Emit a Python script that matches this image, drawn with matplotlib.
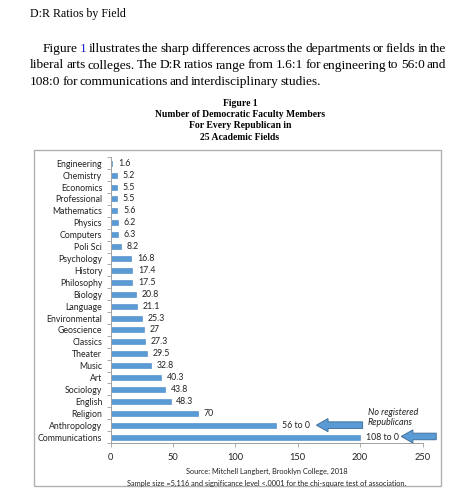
import matplotlib.pyplot as plt
from matplotlib.patches import Rectangle, FancyArrow

# data
fields = ["Engineering", "Chemistry", "Economics", "Professional", "Mathematics",
          "Physics", "Computers", "Poli Sci", "Psychology", "History", "Philosophy",
          "Biology", "Language", "Environmental", "Geoscience", "Classics", "Theater",
          "Music", "Art", "Sociology", "English", "Religion", "Anthropology",
          "Communications"]
ratios = [1.6, 5.2, 5.5, 5.5, 5.6, 6.2, 6.3, 8.2, 16.8, 17.4, 17.5, 20.8, 21.1,
          25.3, 27, 27.3, 29.5, 32.8, 40.3, 43.8, 48.3, 70, 133, 200]  # last two drawn as capped bars
bar_labels = ["1.6", "5.2", "5.5", "5.5", "5.6", "6.2", "6.3", "8.2", "16.8", "17.4",
              "17.5", "20.8", "21.1", "25.3", "27", "27.3", "29.5", "32.8", "40.3",
              "43.8", "48.3", "70", "56 to 0", "108 to 0"]
x_ticks = [0, 50, 100, 150, 200, 250]

serif = "Liberation Serif"
sans = "Lato"
W, H = 454, 500

fig = plt.figure(figsize=(W / 100, H / 100), dpi=100)

# background layer in pixel coordinates for the document text and chart frame
bg = fig.add_axes([0, 0, 1, 1])
bg.set_xlim(0, W)
bg.set_ylim(H, 0)
bg.axis("off")

renderer = fig.canvas.get_renderer()


def word_width(word, **kw):
    t = bg.text(0, 0, word, **kw)
    bb = t.get_window_extent(renderer=renderer)
    t.remove()
    return bb.width


def justified(words, x0, x1, y, colors=None, **kw):
    # spread the words so the line runs from x0 to x1
    widths = [word_width(w, **kw) for w in words]
    gap = (x1 - x0 - sum(widths)) / (len(words) - 1)
    x = x0
    for i, (w, wd) in enumerate(zip(words, widths)):
        c = colors.get(i, "black") if colors else "black"
        bg.text(x, y, w, va="baseline", ha="left", color=c, **kw)
        x += wd + gap


para = dict(family=serif, fontsize=9.6)
bg.text(30, 16.5, "D:R Ratios by Field", family=serif, fontsize=8.6, va="baseline")
justified("Figure 1 illustrates the sharp differences across the departments or fields in the".split(),
          43, 446, 51.7, colors={1: "#2222cc"}, **para)
justified("liberal arts colleges. The D:R ratios range from 1.6:1 for engineering to 56:0 and".split(),
          30, 446, 68.5, **para)
justified("108:0 for communications and interdisciplinary studies.".split(),
          30, 321, 85.3, **para)

title_lines = ["Figure 1", "Number of Democratic Faculty Members",
               "For Every Republican in", "25 Academic Fields"]
for i, line in enumerate(title_lines):
    bg.text(240, 105.5 + i * 11.4, line, family=serif, fontsize=6.9, weight="bold",
            ha="center", va="baseline")

bg.add_patch(Rectangle((33.5, 150), 407, 336, fill=False, edgecolor="#b0b0b0", lw=1))

# chart
ax = fig.add_axes([110.5 / W, 1 - 443 / H, 312 / W, (443 - 157.3) / H])
ypos = range(len(fields))
ax.barh(ypos, ratios, height=0.42, color="#5b9bd5", edgecolor="#4a86c5", lw=0.4)
ax.set_xlim(0, 250)
ax.set_ylim(len(fields) - 0.5, -0.5)
ax.set_yticks(list(ypos))
ax.set_yticklabels(fields)
ax.set_yticks([i - 0.5 for i in range(len(fields) + 1)], minor=True)
ax.set_xticks(x_ticks)
ax.tick_params(axis="y", which="major", length=0, pad=6, labelsize=6.3)
ax.tick_params(axis="y", which="minor", length=3, color="#a0a0a0", width=0.6)
ax.tick_params(axis="x", length=3, color="#a0a0a0", width=0.6, pad=4, labelsize=6.7)
for lab in ax.get_yticklabels() + ax.get_xticklabels():
    lab.set_family(sans)
    lab.set_color("#222222")
for s in ["top", "right"]:
    ax.spines[s].set_visible(False)
for s in ["left", "bottom"]:
    ax.spines[s].set_color("#a0a0a0")
    ax.spines[s].set_linewidth(0.7)

for i, (v, lab) in enumerate(zip(ratios, bar_labels)):
    ax.annotate(lab, (v, i), xytext=(4, 0), textcoords="offset points",
                va="center", ha="left", family=sans, fontsize=6.3, color="#222222")

# "no registered Republicans" callout
ax.text(206, 20.9, "No registered", family=sans, style="italic", fontsize=6.5,
        va="center", color="#222222")
ax.text(206, 21.8, "Republicans", family=sans, style="italic", fontsize=6.5,
        va="center", color="#222222")
arrow_kw = dict(length_includes_head=True, width=0.55, head_width=1.1,
                facecolor="#5b9bd5", edgecolor="#41719c", lw=0.7, clip_on=False)
ax.add_patch(FancyArrow(202, 22.0, -37, 0, head_length=9.3, **arrow_kw))
ax.add_patch(FancyArrow(261, 22.95, -28, 0, head_length=9.3, **arrow_kw))

ax.text(0.5, -0.1, "Source: Mitchell Langbert, Brooklyn College, 2018",
        transform=ax.transAxes, ha="center", va="center", family=sans, fontsize=5.3,
        color="#222222")
ax.text(0.5, -0.14, "Sample size =5,116 and significance level <.0001 for the chi-square test of association.",
        transform=ax.transAxes, ha="center", va="center", family=sans, fontsize=5.3,
        color="#222222")

fig.savefig("out.png", dpi=100)
